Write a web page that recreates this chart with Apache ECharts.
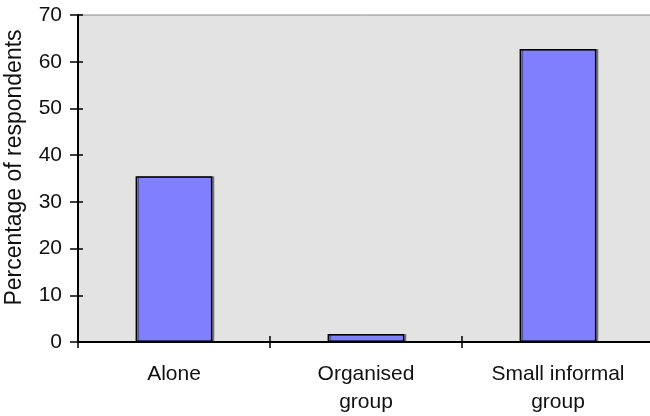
<!DOCTYPE html>
<html><head><meta charset="utf-8">
<script src="https://cdn.jsdelivr.net/npm/echarts@6/dist/echarts.min.js"></script>
<style>html,body{margin:0;padding:0;background:#fff}#c{width:650px;height:416px}</style>
</head><body><div id="c"></div>
<script>
const categories = ['Alone', 'Organised\ngroup', 'Small informal\ngroup'];
const values = [35.5, 1.7, 62.7];
const yTicks = [0, 10, 20, 30, 40, 50, 60, 70];

const font = 'Liberation Sans';
const tickStyle = {color: '#000', width: 1.5};
const chart = echarts.init(document.getElementById('c'), null, {renderer: 'canvas'});
chart.setOption({
  animation: false,
  grid: {left: 78, top: 15, width: 576, height: 327, outerBoundsMode: 'none', containLabel: false,
    show: true, backgroundColor: '#e3e3e3', borderColor: '#8c8c8c', borderWidth: 1},
  xAxis: [{
    type: 'category', data: categories,
    axisLine: {lineStyle: {color: '#000', width: 2}},
    axisTick: {show: true, length: 6, lineStyle: tickStyle},
    axisLabel: {color: '#111', fontFamily: font, fontSize: 21, margin: 18, lineHeight: 28},
    splitLine: {show: false}
  }, {
    type: 'category', data: categories, position: 'bottom',
    axisLine: {show: false},
    axisTick: {show: true, inside: true, length: 6, lineStyle: tickStyle},
    axisLabel: {show: false}
  }],
  yAxis: [{
    type: 'value', min: yTicks[0], max: yTicks[yTicks.length - 1], interval: 10,
    name: 'Percentage of respondents', nameLocation: 'middle', nameGap: 52,
    nameTextStyle: {color: '#111', fontFamily: font, fontSize: 23, padding: [0, 0, 0, 22]},
    axisLine: {show: true, lineStyle: {color: '#000', width: 2}},
    axisTick: {show: true, length: 8, lineStyle: tickStyle},
    axisLabel: {color: '#111', fontFamily: font, fontSize: 21, margin: 16},
    splitLine: {show: false}
  }, {
    type: 'value', min: yTicks[0], max: yTicks[yTicks.length - 1], interval: 10, position: 'left',
    axisLine: {show: false},
    axisTick: {show: true, inside: true, length: 5, lineStyle: tickStyle},
    axisLabel: {show: false},
    splitLine: {show: false}
  }],
  series: [{
    type: 'bar', data: values, barCategoryGap: '60%',
    itemStyle: {color: '#8080ff', borderColor: '#000', borderWidth: 1.5,
      shadowColor: 'rgba(0,0,0,0.35)', shadowOffsetX: 2, shadowOffsetY: 0, shadowBlur: 0}
  }]
});
</script></body></html>
